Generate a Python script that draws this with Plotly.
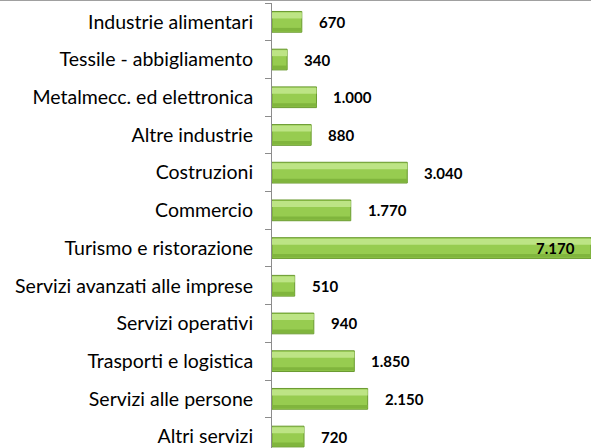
import plotly.graph_objects as go

categories = [
    "Industrie alimentari",
    "Tessile - abbigliamento",
    "Metalmecc. ed elettronica",
    "Altre industrie",
    "Costruzioni",
    "Commercio",
    "Turismo e ristorazione",
    "Servizi avanzati alle imprese",
    "Servizi operativi",
    "Trasporti e logistica",
    "Servizi alle persone",
    "Altri servizi",
]
values = [670, 340, 1000, 880, 3040, 1770, 7170, 510, 940, 1850, 2150, 720]


def fmt(v):
    return f"{v:,}".replace(",", ".")


W, H = 591, 448
ml, mt = 272, 3
plot_h = H - mt
cat_px = 37.7
n_visible = plot_h / cat_px

fig = go.Figure()
# main bar body
fig.add_trace(go.Bar(
    x=values, y=categories, orientation="h", width=0.55,
    marker=dict(color="#97cc50", line=dict(color="#6a9a30", width=1)),
    hoverinfo="skip",
))
# light top band (axis reversed: negative offset is towards top)
fig.add_trace(go.Bar(
    x=values, y=categories, orientation="h", width=0.16, offset=-0.25,
    marker=dict(color="#bde485", line=dict(width=0)),
    hoverinfo="skip",
))
# darker bottom band
fig.add_trace(go.Bar(
    x=values, y=categories, orientation="h", width=0.09, offset=0.16,
    marker=dict(color="#80b53d", line=dict(width=0)),
    hoverinfo="skip",
))

vmax = max(values)
annotations = []
for c, v in zip(categories, values):
    inside = v == vmax
    annotations.append(dict(
        x=v, y=c, xref="x", yref="y", text=f"<b>{fmt(v)}</b>",
        showarrow=False, xanchor="right" if inside else "left",
        xshift=-14 if inside else 15,
        font=dict(family="Lato", size=15, color="#000"),
    ))

fig.update_layout(
    width=W, height=H,
    margin=dict(l=ml, r=0, t=mt, b=0, pad=0),
    paper_bgcolor="white", plot_bgcolor="white",
    barmode="overlay", showlegend=False,
    annotations=annotations,
    xaxis=dict(range=[0, vmax], visible=False, fixedrange=True, automargin=False),
    yaxis=dict(
        type="category", categoryorder="array", categoryarray=categories,
        range=[-0.5 + n_visible, -0.5], automargin=False, fixedrange=True,
        tickson="boundaries", ticks="outside", ticklen=6, tickcolor="#8c8c8c",
        showline=True, linecolor="#8c8c8c", linewidth=1,
        showgrid=False, zeroline=False,
        ticklabelstandoff=14,
        tickfont=dict(family="Lato", size=19.5, color="#000"),
    ),
    shapes=[dict(type="line", xref="paper", yref="paper", x0=-ml / (W - ml), x1=1,
                 y0=1 + (mt - 0.5) / plot_h, y1=1 + (mt - 0.5) / plot_h,
                 line=dict(color="#a0a0a0", width=1))],
)

fig.write_html(
    "out.html",
    config={"displayModeBar": False},
    post_script="document.body.style.margin='0';document.body.style.overflow='hidden';",
)
